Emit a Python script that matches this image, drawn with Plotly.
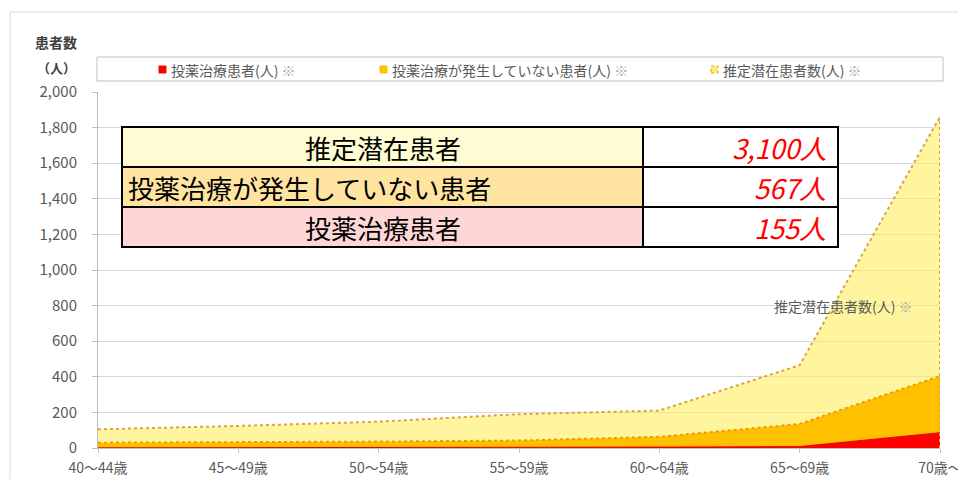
import plotly.graph_objects as go

# ---------------- data ----------------
categories = ["40～44歳", "45～49歳", "50～54歳", "55～59歳", "60～64歳", "65～69歳", "70歳～"]
treated = [1, 1, 2, 3, 5, 8, 86]                 # 投薬治療患者
untreated = [29, 31, 34, 39, 58, 127, 318]       # 投薬治療が発生していない患者
estimated_total = [105, 124, 148, 190, 210, 465, 1860]  # 推定潜在患者数
series_names = ["投薬治療患者(人)", "投薬治療が発生していない患者(人)", "推定潜在患者数(人)"]
y_ticks = [0, 200, 400, 600, 800, 1000, 1200, 1400, 1600, 1800, 2000]
table_labels = ["推定潜在患者", "投薬治療が発生していない患者", "投薬治療患者"]
table_values = ["3,100人", "567人", "155人"]

# ---------------- layout helpers ----------------
OFF = 8                      # page body margin of the html page
SW, SH = 966, 479            # screen size
W, H = SW - OFF, SH - OFF    # figure size
# plot area in screen pixels: x 98..940, y 92..448
L, T = 98 - OFF, 92 - OFF
R, B = SW - 940, SH - 448
PW, PH = W - L - R, H - T - B
FONT = "Noto Sans CJK JP, Noto Sans, sans-serif"
GRAY = "#595959"


def px(x):  # screen x pixel -> paper
    return (x - 98) / PW


def py(y):  # screen y pixel -> paper
    return (448 - y) / PH


fig = go.Figure()

fig.add_trace(go.Scatter(
    x=categories, y=estimated_total, mode="lines", name=series_names[2],
    fill="tozeroy", fillcolor="rgba(255,236,80,0.55)",
    line=dict(color="#D9A441", width=2, dash="dot"), showlegend=False,
))
fig.add_trace(go.Scatter(
    x=categories, y=treated, mode="lines", name=series_names[0],
    stackgroup="s", fillcolor="#FF0000",
    line=dict(color="#E00000", width=1), showlegend=False,
))
fig.add_trace(go.Scatter(
    x=categories, y=untreated, mode="lines", name=series_names[1],
    stackgroup="s", fillcolor="#FFC000",
    line=dict(color="#E9A000", width=2, dash="dot"), showlegend=False,
))

shapes = []
annotations = []

# right dotted edge of the estimated-total area
shapes.append(dict(type="line", xref="x", yref="y",
                   x0=len(categories) - 1, x1=len(categories) - 1,
                   y0=0, y1=estimated_total[-1],
                   line=dict(color="#D9A441", width=2, dash="dot")))

# outer chart border
shapes.append(dict(type="rect", xref="paper", yref="paper",
                   x0=px(10), x1=px(990), y0=py(500), y1=py(12),
                   line=dict(color="#D9D9D9", width=1), layer="below"))

# custom legend
shapes.append(dict(type="rect", xref="paper", yref="paper",
                   x0=px(97), x1=px(943), y0=py(81), y1=py(57),
                   line=dict(color="#BFBFBF", width=1)))
legend_items = [
    (159, "#FF0000", "#FF0000", series_names[0]),
    (380, "#FFC000", "#FFC000", series_names[1]),
    (711, "#FFE97A", "#E9A000", series_names[2]),
]
for x0, fc, lc, name in legend_items:
    shapes.append(dict(type="rect", xref="paper", yref="paper",
                       x0=px(x0), x1=px(x0 + 7), y0=py(73), y1=py(66),
                       fillcolor=fc, line=dict(color=lc, width=1,
                                               dash="dot" if fc != lc else "solid")))
    annotations.append(dict(xref="paper", yref="paper", x=px(x0 + 10), y=py(69.5),
                            xanchor="left", yanchor="middle", showarrow=False,
                            text=name + " <span style='color:#A6A6A6'>※</span>",
                            font=dict(family=FONT, size=14, color=GRAY)))

# y-axis title
annotations.append(dict(xref="paper", yref="paper", x=px(56), y=py(42),
                        xanchor="center", yanchor="middle", showarrow=False,
                        text="<b>患者数</b>", font=dict(family=FONT, size=14, color="#404040")))
annotations.append(dict(xref="paper", yref="paper", x=px(56), y=py(67),
                        xanchor="center", yanchor="middle", showarrow=False,
                        text="<b>（人）</b>", font=dict(family=FONT, size=13, color="#404040")))

# series label inside the chart
annotations.append(dict(xref="paper", yref="paper", x=px(843), y=py(306),
                        xanchor="center", yanchor="middle", showarrow=False,
                        text=series_names[2] + " <span style='color:#A6A6A6'>※</span>",
                        font=dict(family=FONT, size=14, color=GRAY)))

# overlay table
row_fills = ["#FFFBD2", "#FFE3A0", "#FFD6D6"]
row_tops = [127, 167, 207]
row_h = 40
for i, (lab, val) in enumerate(zip(table_labels, table_values)):
    top = row_tops[i]
    shapes.append(dict(type="rect", xref="paper", yref="paper",
                       x0=px(122), x1=px(643), y0=py(top + row_h), y1=py(top),
                       fillcolor=row_fills[i], line=dict(color="black", width=2)))
    shapes.append(dict(type="rect", xref="paper", yref="paper",
                       x0=px(643), x1=px(838), y0=py(top + row_h), y1=py(top),
                       fillcolor="white", line=dict(color="black", width=2)))
    if i == 1:
        annotations.append(dict(xref="paper", yref="paper", x=px(126), y=py(top + row_h / 2),
                                xanchor="left", yanchor="middle", showarrow=False, text=lab,
                                font=dict(family=FONT, size=26, color="black")))
    else:
        annotations.append(dict(xref="paper", yref="paper", x=px(383), y=py(top + row_h / 2),
                                xanchor="center", yanchor="middle", showarrow=False, text=lab,
                                font=dict(family=FONT, size=26, color="black")))
    annotations.append(dict(xref="paper", yref="paper", x=px(828), y=py(top + row_h / 2),
                            xanchor="right", yanchor="middle", showarrow=False,
                            text="<i>" + val + "</i>",
                            font=dict(family=FONT, size=27, color="#FF0000")))

fig.update_layout(
    width=W, height=H,
    margin=dict(l=L, r=R, t=T, b=B, pad=0),
    paper_bgcolor="white", plot_bgcolor="white",
    font=dict(family=FONT, color=GRAY),
    showlegend=False,
    shapes=shapes, annotations=annotations,
    xaxis=dict(type="category", range=[0, len(categories) - 1],
               showgrid=False, zeroline=False, automargin=False,
               showline=True, linecolor="#BFBFBF", linewidth=1,
               ticks="outside", ticklen=4, tickcolor="#BFBFBF",
               tickfont=dict(family=FONT, size=14, color=GRAY),
               ticklabelstandoff=3),
    yaxis=dict(range=[0, 2000], tickvals=y_ticks, tickformat=",",
               showgrid=True, gridcolor="#D9D9D9", gridwidth=1, zeroline=False,
               automargin=False,
               showline=True, linecolor="#BFBFBF", linewidth=1,
               ticks="outside", ticklen=5, tickcolor="#BFBFBF",
               tickfont=dict(family=FONT, size=15, color=GRAY),
               ticklabelstandoff=12),
)

fig.write_html("out.html")
